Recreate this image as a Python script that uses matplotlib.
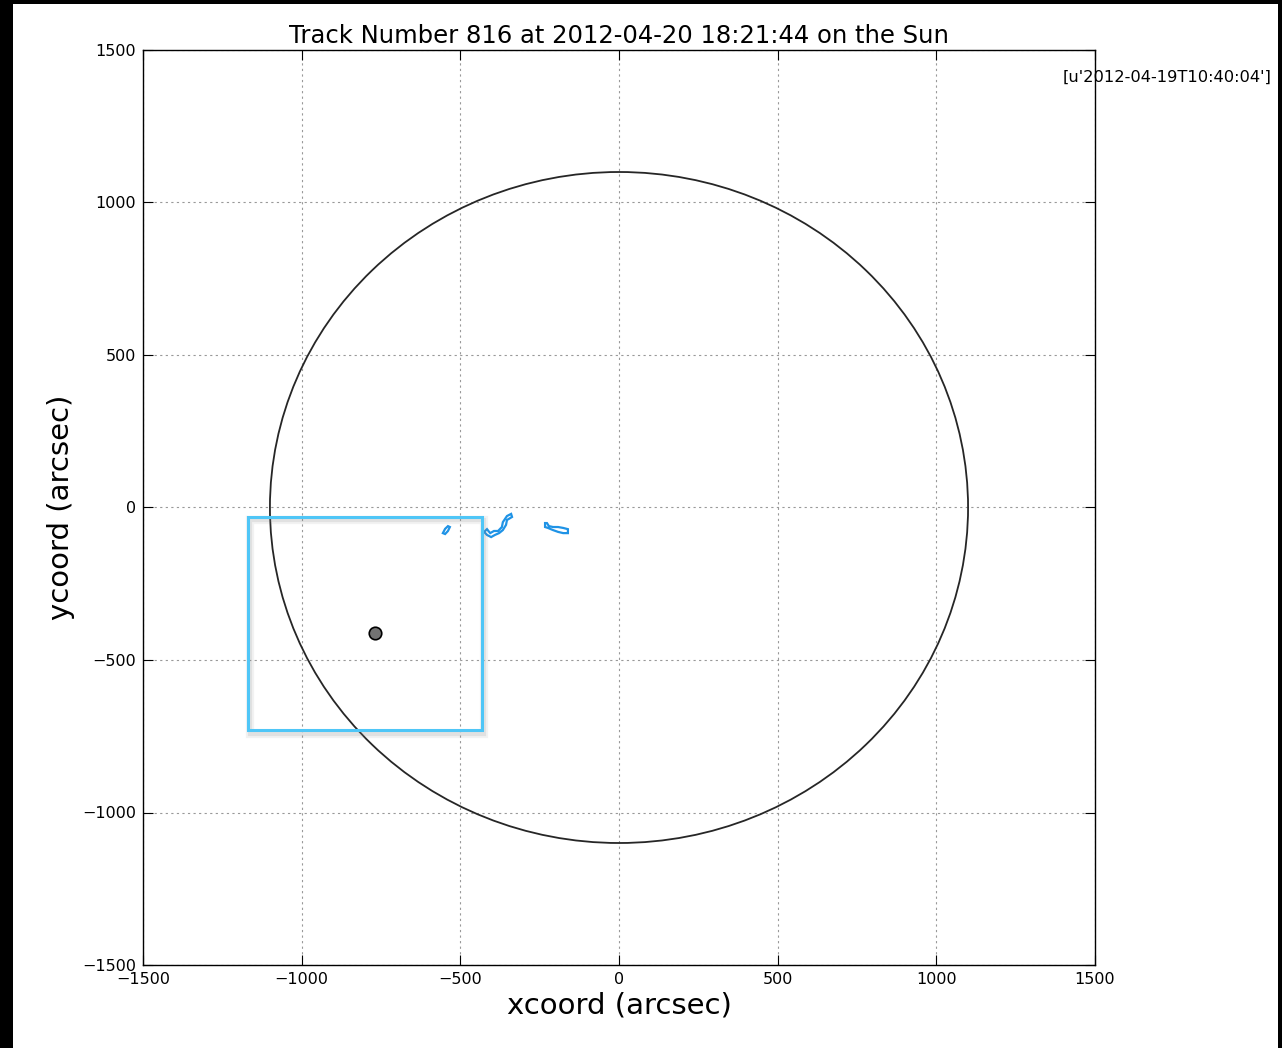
import matplotlib
matplotlib.use("Agg")
import matplotlib.pyplot as plt
import matplotlib.patheffects as pe
from matplotlib.patches import Circle, Rectangle, Polygon

# solar disk and feature data (arcsec)
sun_radius = 1100.0
box_x = [-1169, -432]
box_y = [-730, -31]
track_point = (-769, -411)

contour1_x = [-555, -548, -539, -533, -539, -548]
contour1_y = [-84, -70, -61, -64, -77, -87]
contour2_x = [-425, -416, -406, -394, -381, -369, -366, -353, -340, -337,
              -353, -356, -366, -378, -391, -403, -416]
contour2_y = [-80, -71, -84, -77, -77, -64, -48, -28, -21, -31,
              -41, -57, -74, -84, -90, -97, -90]
contour3_x = [-233, -227, -221, -208, -192, -176, -161, -161, -176, -192,
              -208, -224, -233]
contour3_y = [-51, -51, -61, -64, -64, -67, -71, -84, -84, -80,
              -74, -67, -64]

ticks = [-1500, -1000, -500, 0, 500, 1000, 1500]
title = "Track Number 816 at 2012-04-20 18:21:44 on the Sun"
stamp = "[u'2012-04-19T10:40:04']"

fig = plt.figure(figsize=(12.82, 10.48), dpi=100, facecolor="black")
# white page inside the black frame
fig.patches.append(Rectangle((13 / 1282, 0), (1278 - 13) / 1282, 1 - 4 / 1048,
                             transform=fig.transFigure, facecolor="white",
                             edgecolor="none", zorder=-10))

ax = fig.add_axes([143 / 1282, 1 - 965 / 1048, 952 / 1282, 915 / 1048])
ax.set_xlim(-1500, 1500)
ax.set_ylim(-1500, 1500)
ax.set_xticks(ticks)
ax.set_yticks(ticks)
ax.tick_params(direction="in", length=7, top=True, right=True, labelsize=11.5,
               pad=5)
for s in ax.spines.values():
    s.set_linewidth(1.0)
ax.grid(True, color="0.6", linestyle=(0, (2, 3)), linewidth=0.8)
ax.set_axisbelow(True)

ax.add_patch(Circle((0, 0), sun_radius, fill=False, edgecolor="0.15",
                    linewidth=1.3))

for cx, cy in [(contour1_x, contour1_y), (contour2_x, contour2_y),
               (contour3_x, contour3_y)]:
    ax.add_patch(Polygon(list(zip(cx, cy)), closed=True, fill=False,
                         edgecolor="#1f93e6", linewidth=1.6))

rect = Rectangle((box_x[0], box_y[0]), box_x[1] - box_x[0], box_y[1] - box_y[0],
                 fill=False, edgecolor="#4fc6f7", linewidth=2.2)
rect.set_path_effects([
    pe.SimpleLineShadow(offset=(1.5, -2.5), shadow_color="0.5", alpha=0.1,
                        linewidth=6),
    pe.SimpleLineShadow(offset=(1.5, -2.5), shadow_color="0.5", alpha=0.15,
                        linewidth=3),
    pe.Normal()])
ax.add_patch(rect)

ax.plot([track_point[0]], [track_point[1]], "o", markersize=9,
        markerfacecolor="0.45", markeredgecolor="black", markeredgewidth=1.2)

ax.set_title(title, fontsize=17.5, pad=5)
ax.set_xlabel("xcoord (arcsec)", fontsize=21, labelpad=3)
ax.set_ylabel("ycoord (arcsec)", fontsize=21, labelpad=5)

fig.text(1063 / 1282, 1 - 77 / 1048, stamp, fontsize=11.7, ha="left",
         va="center", color="black")

fig.savefig("out.png", dpi=100, facecolor=fig.get_facecolor())
